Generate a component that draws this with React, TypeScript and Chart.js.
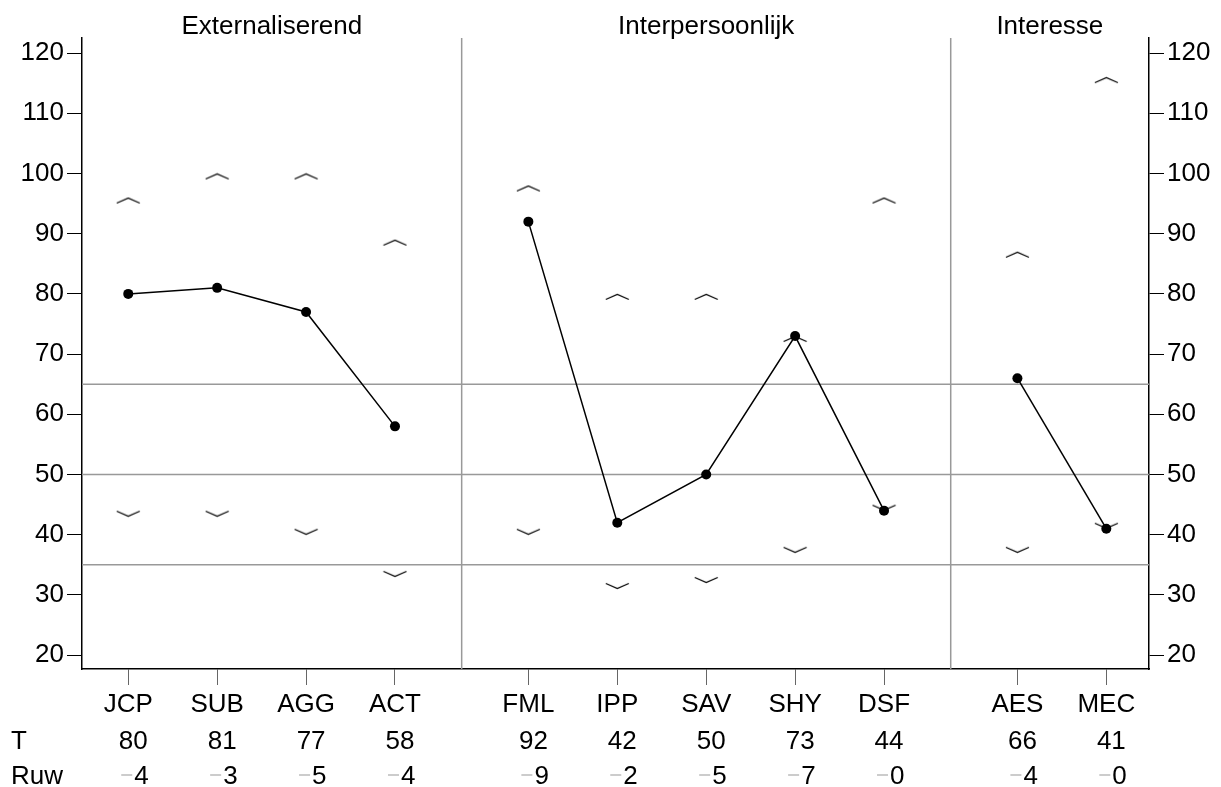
import React, { useEffect, useRef } from "react";
import { Chart, registerables } from "chart.js";

Chart.register(...registerables);

const groupNames = ["Externaliserend", "Interpersoonlijk", "Interesse"];
const groupSizes = [4, 5, 2];
const categories = ["JCP", "SUB", "AGG", "ACT", "FML", "IPP", "SAV", "SHY", "DSF", "AES", "MEC"];
const tScores = [80, 81, 77, 58, 92, 42, 50, 73, 44, 66, 41];
const rawScores = [4, 3, 5, 4, 9, 2, 5, 7, 0, 4, 0];
const upperBounds = [95.5, 99.5, 99.5, 88.5, 97.5, 79.5, 79.5, 72.5, 95.5, 86.5, 115.5];
const lowerBounds = [43.5, 43.5, 40.5, 33.5, 40.5, 31.5, 32.5, 37.5, 44.5, 37.5, 41.5];
const yTicks = [20, 30, 40, 50, 60, 70, 80, 90, 100, 110, 120];
const refLines = [35, 50, 65];
const rowHeaders = ["T", "Ruw"];

const FONT = "'Liberation Sans', Arial, Helvetica, sans-serif";
const FS = 26;

// category positions: unit spacing, extra half unit between groups
const positions: number[] = [];
const groupIndex: number[] = [];
(() => {
  let idx = 0;
  groupSizes.forEach((n, g) => {
    for (let j = 0; j < n; j++) {
      positions.push(idx + 0.5 * g);
      groupIndex.push(g);
      idx++;
    }
  });
})();
const separators: number[] = [];
(() => {
  let idx = 0;
  groupSizes.forEach((n, g) => {
    idx += n;
    if (g < groupSizes.length - 1) separators.push(positions[idx - 1] + 0.75);
  });
})();

function makeChevron(up: boolean) {
  const c = document.createElement("canvas");
  c.width = 25;
  c.height = 8;
  const ctx = c.getContext("2d")!;
  ctx.strokeStyle = "#000";
  ctx.lineWidth = 1.3;
  ctx.beginPath();
  if (up) {
    ctx.moveTo(1, 6.5);
    ctx.lineTo(12.5, 1.5);
    ctx.lineTo(24, 6.5);
  } else {
    ctx.moveTo(1, 1.5);
    ctx.lineTo(12.5, 6.5);
    ctx.lineTo(24, 1.5);
  }
  ctx.stroke();
  return c;
}

const overlay = {
  id: "overlay",
  beforeDatasetsDraw(chart: any) {
    const { ctx, chartArea: a, scales } = chart;
    const x = scales.x;
    const y = scales.y;
    ctx.save();
    ctx.strokeStyle = "#999";
    ctx.lineWidth = 1.5;
    refLines.forEach((v) => {
      const py = y.getPixelForValue(v);
      ctx.beginPath();
      ctx.moveTo(a.left, py);
      ctx.lineTo(a.right, py);
      ctx.stroke();
    });
    separators.forEach((s) => {
      const px = x.getPixelForValue(s);
      ctx.beginPath();
      ctx.moveTo(px, a.top);
      ctx.lineTo(px, a.bottom);
      ctx.stroke();
    });
    ctx.restore();
  },
  afterDraw(chart: any) {
    const { ctx, chartArea: a, scales } = chart;
    const x = scales.x;
    ctx.save();
    ctx.fillStyle = "#000";
    ctx.font = `${FS}px ${FONT}`;
    ctx.textBaseline = "alphabetic";
    // group titles
    const bounds = [a.left, ...separators.map((s) => x.getPixelForValue(s)), a.right];
    groupNames.forEach((name, g) => {
      ctx.textAlign = "center";
      ctx.fillText(name, (bounds[g] + bounds[g + 1]) / 2, a.top - 4.5);
    });
    // rows
    const tBase = a.bottom + 79.5;
    const rBase = a.bottom + 114.5;
    ctx.textAlign = "left";
    ctx.fillText(rowHeaders[0], 11, tBase);
    ctx.fillText(rowHeaders[1], 11, rBase);
    positions.forEach((p, i) => {
      const px = x.getPixelForValue(p);
      ctx.textAlign = "right";
      ctx.fillStyle = "#000";
      ctx.fillText(String(tScores[i]), px + 19.5, tBase);
      ctx.fillText(String(rawScores[i]), px + 20.5, rBase);
      ctx.strokeStyle = "#999";
      ctx.lineWidth = 1;
      ctx.beginPath();
      ctx.moveTo(px - 7, rBase - 8.5);
      ctx.lineTo(px + 4, rBase - 8.5);
      ctx.stroke();
    });
    ctx.restore();
  },
};

export default function App() {
  const ref = useRef<HTMLCanvasElement>(null);
  useEffect(() => {
    if (!ref.current) return;
    const up = makeChevron(true);
    const down = makeChevron(false);

    const lineSets = groupNames.map((_, g) => ({
      type: "scatter" as const,
      showLine: true,
      data: positions
        .map((p, i) => ({ x: p, y: tScores[i], g: groupIndex[i] }))
        .filter((d) => d.g === g)
        .map((d) => ({ x: d.x, y: d.y })),
      borderColor: "#000",
      backgroundColor: "#000",
      borderWidth: 1.5,
      pointRadius: 5,
      pointBorderWidth: 0,
      pointBackgroundColor: "#000",
      order: 0,
    }));

    const chart = new Chart(ref.current, {
      type: "scatter",
      data: {
        datasets: [
          {
            data: positions.map((p, i) => ({ x: p, y: upperBounds[i] })),
            pointStyle: up as any,
            pointRadius: 5,
            showLine: false,
            order: 1,
          } as any,
          {
            data: positions.map((p, i) => ({ x: p, y: lowerBounds[i] })),
            pointStyle: down as any,
            pointRadius: 5,
            showLine: false,
            order: 1,
          } as any,
          ...lineSets,
        ],
      },
      options: {
        animation: false,
        responsive: false,
        devicePixelRatio: 1,
        layout: { padding: { top: 38, left: 0, right: 0, bottom: 0 } },
        plugins: { legend: { display: false }, tooltip: { enabled: false } },
        scales: {
          x: {
            type: "linear",
            position: "bottom",
            min: -0.52,
            max: 11.48,
            afterBuildTicks: (s: any) => {
              s.ticks = positions.map((v) => ({ value: v }));
            },
            afterFit: (s: any) => {
              s.height = 118;
            },
            ticks: {
              autoSkip: false,
              maxRotation: 0,
              padding: 4,
              color: "#000",
              font: { family: FONT, size: FS },
              callback: (_v: any, i: number) => categories[i],
            },
            grid: { drawOnChartArea: false, drawTicks: true, tickLength: 16, color: "#666", lineWidth: 1 },
            border: { display: true, color: "#000", width: 1.5 },
          },
          y: {
            type: "linear",
            position: "left",
            min: 17.7,
            max: 122.5,
            afterBuildTicks: (s: any) => {
              s.ticks = yTicks.map((v) => ({ value: v }));
            },
            afterFit: (s: any) => {
              s.width = 82;
            },
            ticks: { padding: 3, color: "#000", font: { family: FONT, size: FS } },
            grid: { drawOnChartArea: false, drawTicks: true, tickLength: 15, color: "#000", lineWidth: 1 },
            border: { display: true, color: "#000", width: 1.5 },
          },
          y2: {
            type: "linear",
            position: "right",
            display: true,
            min: 17.7,
            max: 122.5,
            afterBuildTicks: (s: any) => {
              s.ticks = yTicks.map((v) => ({ value: v }));
            },
            afterFit: (s: any) => {
              s.width = 72;
            },
            ticks: { padding: 3, color: "#000", font: { family: FONT, size: FS } },
            grid: { drawOnChartArea: false, drawTicks: true, tickLength: 15, color: "#000", lineWidth: 1 },
            border: { display: true, color: "#000", width: 1.5 },
          },
        },
      } as any,
      plugins: [overlay],
    });
    return () => chart.destroy();
  }, []);

  return (
    <div style={{ position: "fixed", left: 0, top: 0, width: 1221, height: 787, background: "#fff" }}>
      <canvas ref={ref} width={1221} height={787} style={{ display: "block", width: 1221, height: 787 }} />
    </div>
  );
}
